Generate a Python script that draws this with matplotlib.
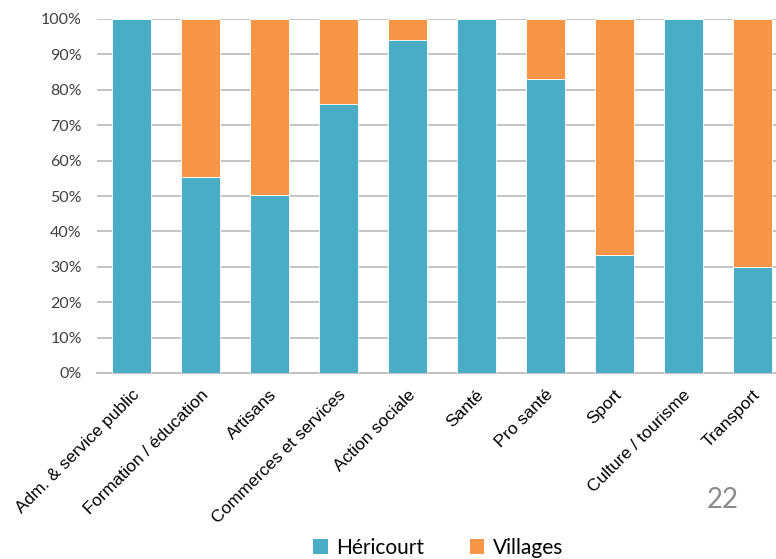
import matplotlib
matplotlib.use("Agg")
import matplotlib.pyplot as plt
from matplotlib.patches import Patch
import numpy as np

categories = ["Adm. & service public", "Formation / éducation", "Artisans",
              "Commerces et services", "Action sociale", "Santé", "Pro santé",
              "Sport", "Culture / tourisme", "Transport"]
hericourt = [100, 55.5, 50.3, 76, 94, 100, 83, 33.3, 100, 30]
villages = [100 - v for v in hericourt]
yticks = [0, 10, 20, 30, 40, 50, 60, 70, 80, 90, 100]
ytick_labels = [f"{t}%" for t in yticks]

c_her = "#4BACC6"
c_vil = "#F79646"

fig = plt.figure(figsize=(7.76, 5.59), dpi=100)
W, H = 776, 559
ax = fig.add_axes([97 / W, 1 - 373 / H, (786.5 - 97) / W, (373 - 19) / H])

x = np.arange(len(categories))
ax.bar(x, hericourt, width=0.565, color=c_her, edgecolor="white", linewidth=0.6, zorder=3)
ax.bar(x, villages, bottom=hericourt, width=0.565, color=c_vil, edgecolor="white", linewidth=0.6, zorder=3)

ax.set_xlim(-0.5, len(categories) - 0.5)
ax.set_ylim(0, 100)
ax.set_yticks(yticks)
ax.set_yticklabels(ytick_labels, fontfamily="Lato", fontsize=11.5, color="#404040")
ax.tick_params(axis="y", length=0, pad=11)
ax.set_xticks(x)
ax.set_xticklabels(categories, rotation=45, ha="right", rotation_mode="anchor",
                   fontfamily="Liberation Sans", fontsize=12.5, color="black")
ax.tick_params(axis="x", length=0, pad=10)
ax.grid(axis="y", color="#BFBFBF", linewidth=1.3, zorder=0)
ax.set_axisbelow(True)
for s in ["top", "right", "left"]:
    ax.spines[s].set_visible(False)
ax.spines["bottom"].set_color("#BFBFBF")
ax.spines["bottom"].set_linewidth(1.3)

handles = [Patch(facecolor=c_her, edgecolor="none", label="Héricourt"),
           Patch(facecolor=c_vil, edgecolor="none", label="Villages")]
fig.legend(handles=handles, loc="center", bbox_to_anchor=(438 / W, 1 - 548 / H), ncol=2,
           frameon=False, prop={"family": "Lato", "size": 15}, handlelength=0.7,
           handleheight=0.7, handletextpad=0.4, columnspacing=2.2)

fig.text(723 / W, 1 - 500 / H, "22", fontfamily="Lato", fontsize=20, color="#8C8C8C",
         ha="center", va="center")

fig.savefig("out.png", dpi=100)
